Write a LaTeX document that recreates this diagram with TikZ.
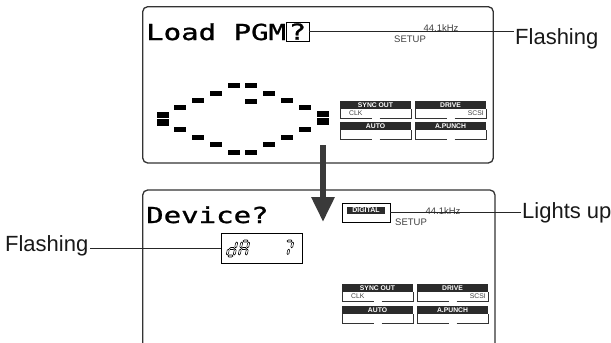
\documentclass[tikz,border=0pt]{standalone}
\usepackage{fontspec}
\setmainfont{Liberation Sans}
\newfontfamily\lcd[FakeStretch=1.32,FakeBold=1.2]{DejaVu Sans Mono}
\usetikzlibrary{arrows.meta}
\definecolor{pc}{HTML}{333333}
\definecolor{dk}{HTML}{2B2B2B}
\definecolor{arr}{HTML}{3A3A3A}
\newcommand\dashat[2]{\fill[black] ({#1-6},{#2-2.5}) rectangle ++(12,5);}
\newcommand\talldash[2]{\fill[black] ({#1-6},{#2-3.25}) rectangle ++(12,6.5);}
\newcommand\hs[3]{\draw[segst] (#1,#3) -- ({#1+1},{#3-1}) -- ({#2-1},{#3-1}) -- (#2,#3) -- ({#2-1},{#3+1}) -- ({#1+1},{#3+1}) -- cycle;}
\newcommand\vs[3]{\draw[segst] (#1,#2) -- ({#1+1},{#2+1}) -- ({#1+1},{#3-1}) -- (#1,#3) -- ({#1-1},{#3-1}) -- ({#1-1},{#2+1}) -- cycle;}
\newcommand\indic[6]{%
  \fill[dk] (#1,#2) rectangle ++(71,7.5);
  \node[hdrtext] (#6) at ({#1+35.5},{#2+3.9}) {#3};
  \draw[frame] (#1,{#2+7.5}) -- ++(0,10) -- ++(31.5,0) ++(8,0) -- ++(31.5,0) -- ++(0,-10);
  \node[subtext, anchor=west] (#6l) at ({#1+9},{#2+12}) {#4};
  \node[subtext, anchor=east] (#6r) at ({#1+69},{#2+12}) {#5};
}
\begin{document}
\begin{tikzpicture}[x=1pt,y=-1pt,
  panel/.style={draw=pc, line width=1.3pt, rounded corners=5pt},
  lead/.style={draw=black!85, line width=0.7pt},
  lbl/.style={font=\fontsize{22}{22}\selectfont, inner sep=1.5pt, text=black!90},
  lcdtext/.style={font=\lcd\fontsize{22}{22}\selectfont, inner sep=0pt, text=black},
  small/.style={font=\fontsize{9.5}{9.5}\selectfont, text=black!75, inner sep=0pt},
  hdrtext/.style={font=\bfseries\fontsize{6.8}{6.8}\selectfont, text=white, inner sep=0pt},
  subtext/.style={font=\fontsize{6.8}{6.8}\selectfont, text=black!75, inner sep=0pt},
  frame/.style={draw=pc, line width=0.8pt},
  segst/.style={draw=black, line width=0.55pt, fill=white},
  bigarrow/.style={draw=arr, line width=6pt, -{Triangle[width=22pt,length=25pt]}}]
\useasboundingbox (0,0) rectangle (611,343);
% panels
\draw[panel] (142.7,6.7) rectangle (493.3,163);
\draw[panel] (142.7,343) -- (142.7,190) -- (495,190) -- (495,343);
% arrow
\coordinate (arrS) at (323,145);
\coordinate (arrE) at (323,222);
\draw[bigarrow] (arrS) -- (arrE);
% top panel texts
\node[lcdtext, anchor=base west] (load) at (146,40) {Load PGM};
\node[lcdtext, draw=black, line width=0.8pt, minimum width=23pt, minimum height=19pt] (q) at (297.5,31.5) {?};
\node[small] (khz1) at (441,28) {44.1kHz};
\node[small] (setup1) at (410,39) {SETUP};
\node[lbl, anchor=base west] (fl1) at (513.5,44) {Flashing};
\draw[lead] (q.east) -- (q.east -| fl1.west);
% dashes
\dashat{234.2}{85.7}\dashat{250.8}{85.7}
\dashat{216}{93.3}\dashat{269.3}{93.3}
\dashat{197.7}{100.7}\dashat{251}{101.3}\dashat{286.7}{100.7}
\dashat{180}{107.7}\dashat{305}{107.7}
\talldash{162.5}{115}\talldash{162.5}{122.5}
\talldash{322.5}{114}\talldash{322.5}{121.7}
\dashat{180}{129.7}\dashat{305}{129.7}
\dashat{197.7}{137.3}\dashat{286.7}{137.3}
\dashat{216}{144.3}\dashat{269.3}{144.3}
\dashat{234.2}{152.3}\dashat{250.8}{152.3}
% top indicators
\indic{340}{101}{SYNC OUT}{CLK}{}{so1}
\indic{415}{101}{DRIVE}{}{SCSI}{dr1}
\indic{340}{122}{AUTO}{}{}{au1}
\indic{415}{122}{A.PUNCH}{}{}{ap1}
% bottom panel texts
\node[lcdtext, anchor=base west] (dev) at (146,223) {Device?};
\node[draw=black, line width=0.8pt, minimum width=81pt, minimum height=30pt, inner sep=0pt] (dabox) at (261.5,248) {};
\begin{scope}[shift={(227,256)}, xslant=0.2]
  \vs{7}{-14}{-8.2}\vs{7}{-6.8}{-1}\hs{1}{6}{0}\vs{0}{-6.8}{-1}\hs{1}{6}{-7.5}
\end{scope}
\begin{scope}[shift={(239,256)}, xslant=0.2]
  \hs{1}{6}{-15}\vs{7}{-14}{-8.2}\vs{7}{-6.8}{-1}\vs{0}{-6.8}{-1}\vs{0}{-14}{-8.2}\hs{1}{6}{-7.5}
\end{scope}
\begin{scope}[shift={(283,256)}, xslant=0.2]
  \hs{1}{6}{-15}\vs{7}{-14}{-8.2}\vs{4.5}{-6.8}{-1.5}
\end{scope}
\node[lbl, anchor=base east] (fl2) at (90,251) {Flashing};
\draw[lead] (fl2.east |- dabox.west) -- (dabox.west);
\node[draw=black, line width=0.9pt, minimum width=48pt, minimum height=19pt, inner sep=0pt] (dig) at (366,212.5) {};
\node[hdrtext, fill=dk, minimum width=38pt, minimum height=7.5pt, font=\bfseries\fontsize{7}{7}\selectfont] (digl) at (366,210.5) {DIGITAL};
\node[small] (khz2) at (443,211) {44.1kHz};
\node[small] (setup2) at (411,222) {SETUP};
\node[lbl, anchor=base west] (lu) at (520.5,218) {Lights up};
\draw[lead] (dig.east) -- (dig.east -| lu.west);
% bottom indicators
\indic{342}{284}{SYNC OUT}{CLK}{}{so2}
\indic{417}{284}{DRIVE}{}{SCSI}{dr2}
\indic{342}{306}{AUTO}{}{}{au2}
\indic{417}{306}{A.PUNCH}{}{}{ap2}
\end{tikzpicture}
\end{document}
